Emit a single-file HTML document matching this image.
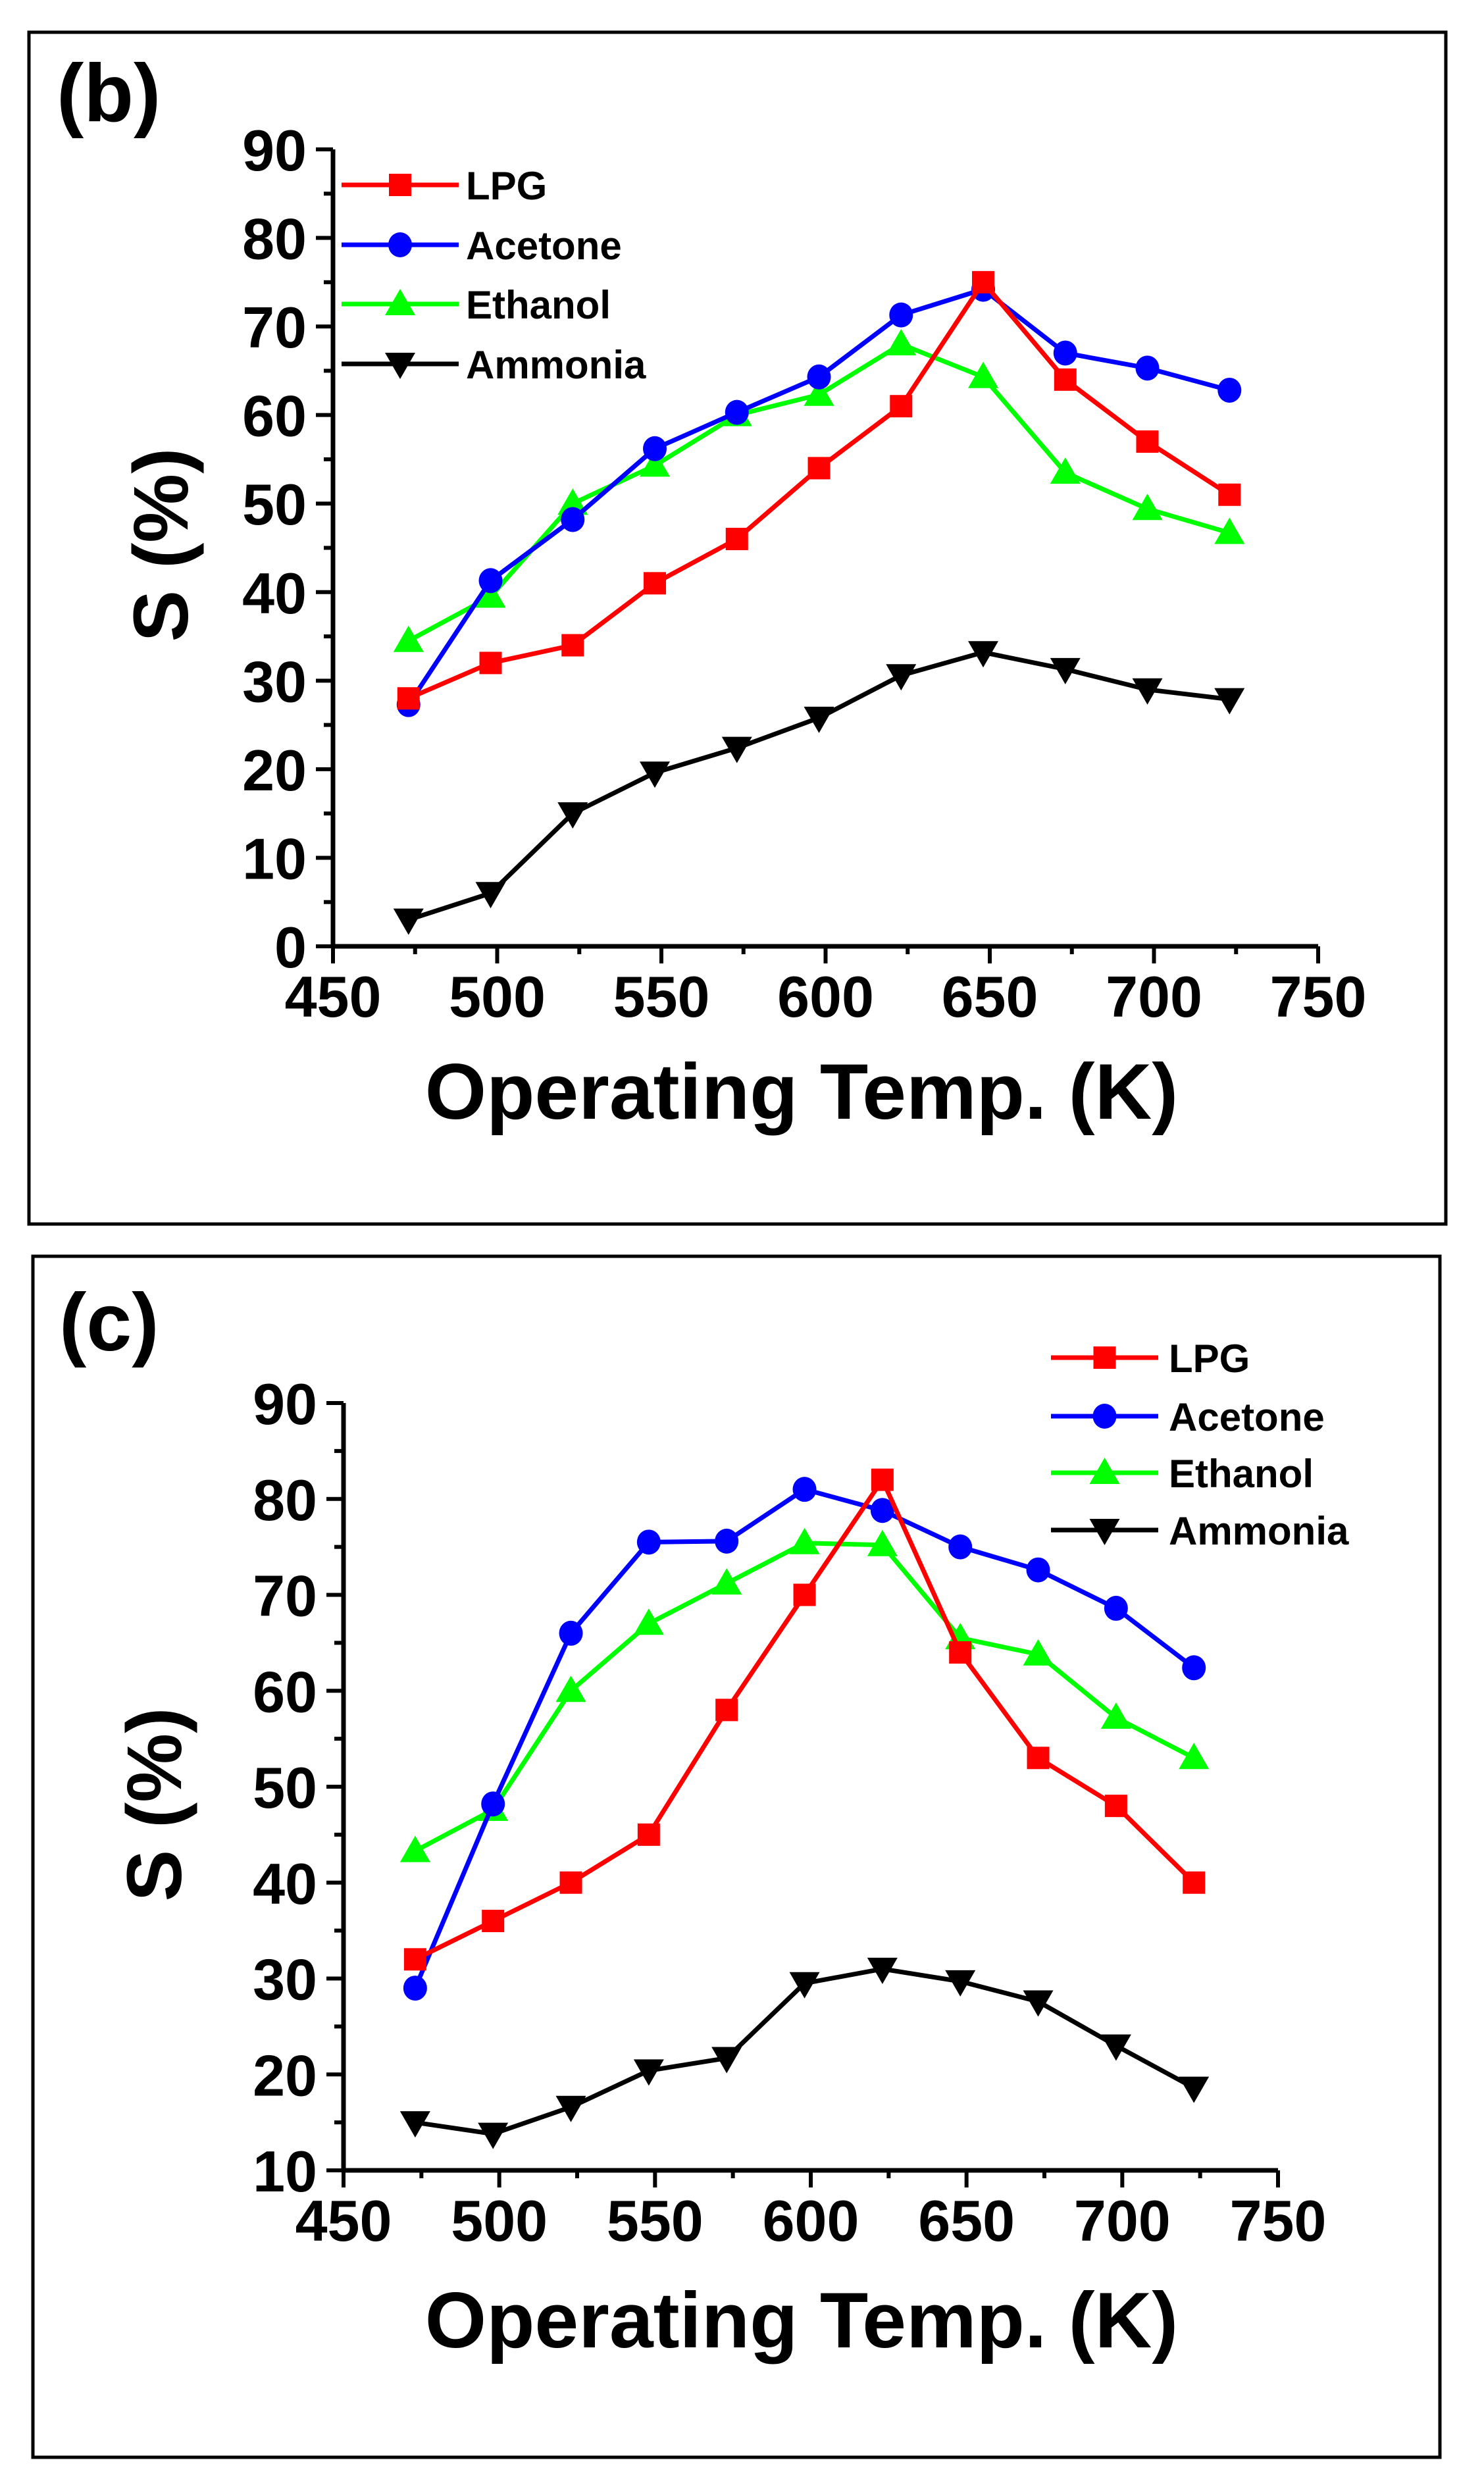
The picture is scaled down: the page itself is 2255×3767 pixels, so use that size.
<!DOCTYPE html>
<html><head><meta charset="utf-8">
<style>
html,body{margin:0;padding:0;background:#fff;}
svg{display:block;}
text{font-family:"Liberation Sans",Arial,sans-serif;font-weight:bold;fill:#000;}
</style></head>
<body>
<svg id="s" width="2255" height="3767" viewBox="0 0 2255 3767" xmlns="http://www.w3.org/2000/svg">
<rect x="0" y="0" width="2255" height="3767" fill="#fff"/>
<rect x="44" y="49" width="2153" height="1811" fill="none" stroke="#000" stroke-width="5"/>
<rect x="50" y="1909" width="2138" height="1825" fill="none" stroke="#000" stroke-width="5"/>
<text x="86" y="184" font-size="124">(b)</text>
<text x="90" y="2052" font-size="124">(c)</text>
</svg>
<script>
var svg=document.getElementById('s');var NS='http://www.w3.org/2000/svg';
function el(t,a,txt){var e=document.createElementNS(NS,t);for(var k in a)e.setAttribute(k,a[k]);if(txt!==undefined)e.textContent=txt;svg.appendChild(e);return e;}
var xs=[473,498,523,548,573,598,623,648,673,698,723];
var cols={L:'#ff0000',A:'#0000ff',E:'#00ff00',N:'#000000'};
function marker(t,x,y,c){
 if(t=='L')el('rect',{x:x-17,y:y-17,width:34,height:34,fill:c});
 else if(t=='A')el('ellipse',{cx:x,cy:y,rx:18,ry:19,fill:c});
 else if(t=='E')el('polygon',{points:(x-23)+','+(y+17)+' '+(x+23)+','+(y+17)+' '+x+','+(y-23),fill:c});
 else el('polygon',{points:(x-23)+','+(y-17)+' '+(x+23)+','+(y-17)+' '+x+','+(y+23),fill:c});
}
function panel(p){
 var X=function(v){return p.x0+(v-450)/300*(p.x1-p.x0);};
 var Y=function(v){return p.y0+(v-p.ymin)/(90-p.ymin)*(p.y1-p.y0);};
 el('line',{x1:X(450),y1:Y(p.ymin),x2:X(750),y2:Y(p.ymin),stroke:'#000','stroke-width':7});
 el('line',{x1:X(450),y1:Y(p.ymin)+3,x2:X(450),y2:Y(90),stroke:'#000','stroke-width':7});
 for(var v=450;v<=750;v+=25){var maj=(v%50==0);el('line',{x1:X(v),y1:Y(p.ymin),x2:X(v),y2:Y(p.ymin)+(maj?26:12),stroke:'#000','stroke-width':6});
  if(maj)el('text',{x:X(v),y:Y(p.ymin)+107,'font-size':88,'text-anchor':'middle'},String(v));}
 for(var v=p.ymin;v<=90;v+=5){var maj=(v%10==0);el('line',{x1:X(450),y1:Y(v),x2:X(450)-(maj?26:14),y2:Y(v),stroke:'#000','stroke-width':6});
  if(maj)el('text',{x:X(450)-40,y:Y(v)+32,'font-size':88,'text-anchor':'end'},String(v));}
 el('text',{x:p.tx,y:p.ty,'font-size':120,'text-anchor':'middle'},'Operating Temp. (K)');
 el('text',{x:0,y:0,'font-size':118,'text-anchor':'middle',transform:'translate('+(p.sx+42)+','+p.sy+') rotate(-90)'},'S (%)');
 var order=['N','E','A','L'];
 order.forEach(function(k){var d=p.d[k];var pts=d.map(function(v,i){return X(xs[i])+','+Y(v);}).join(' ');
  el('polyline',{points:pts,fill:'none',stroke:cols[k],'stroke-width':7,'stroke-linejoin':'round'});
  d.forEach(function(v,i){marker(k,X(xs[i]),Y(v),cols[k]);});});
 var names={L:'LPG',A:'Acetone',E:'Ethanol',N:'Ammonia'};
 ['L','A','E','N'].forEach(function(k,i){var y=p.ly[i];
  el('line',{x1:p.lx0,y1:y,x2:p.lx1,y2:y,stroke:cols[k],'stroke-width':7});
  marker(k,(p.lx0+p.lx1)/2,y,cols[k]);
  el('text',{x:p.tx0,y:y+22,'font-size':60},names[k]);});
}
panel({x0:506,x1:2003,y0:1438,y1:227,ymin:0,tx:1218,ty:1700,sx:243,sy:828,
 lx0:519,lx1:697,tx0:708,ly:[281,372,462,553],
 d:{L:[28,32,34,41,46,54,61,75,64,57,51],
    A:[27.3,41.3,48.2,56.2,60.3,64.3,71.3,74.2,67,65.3,62.8],
    E:[34.5,39.5,50,54.3,60,62.3,68,64.3,53.5,49.4,46.7],
    N:[3,6,15,19.6,22.4,25.8,30.6,33.2,31.3,29,27.9]}});
panel({x0:522,x1:1942,y0:3298,y1:2132,ymin:10,tx:1218,ty:3567,sx:233,sy:2742,
 lx0:1597,lx1:1760,tx0:1776,ly:[2063,2152,2238,2325],
 d:{L:[32,36,40,45,58,70,82,64,53,48,40],
    A:[29,48.2,66,75.5,75.6,81,78.8,75,72.6,68.6,62.4],
    E:[43.3,47.6,60,67,71.2,75.4,75.2,65.5,63.8,57.2,53],
    N:[15,13.8,16.6,20.4,21.7,29.5,31,29.7,27.6,23,18.6]}});
</script>
</body></html>
